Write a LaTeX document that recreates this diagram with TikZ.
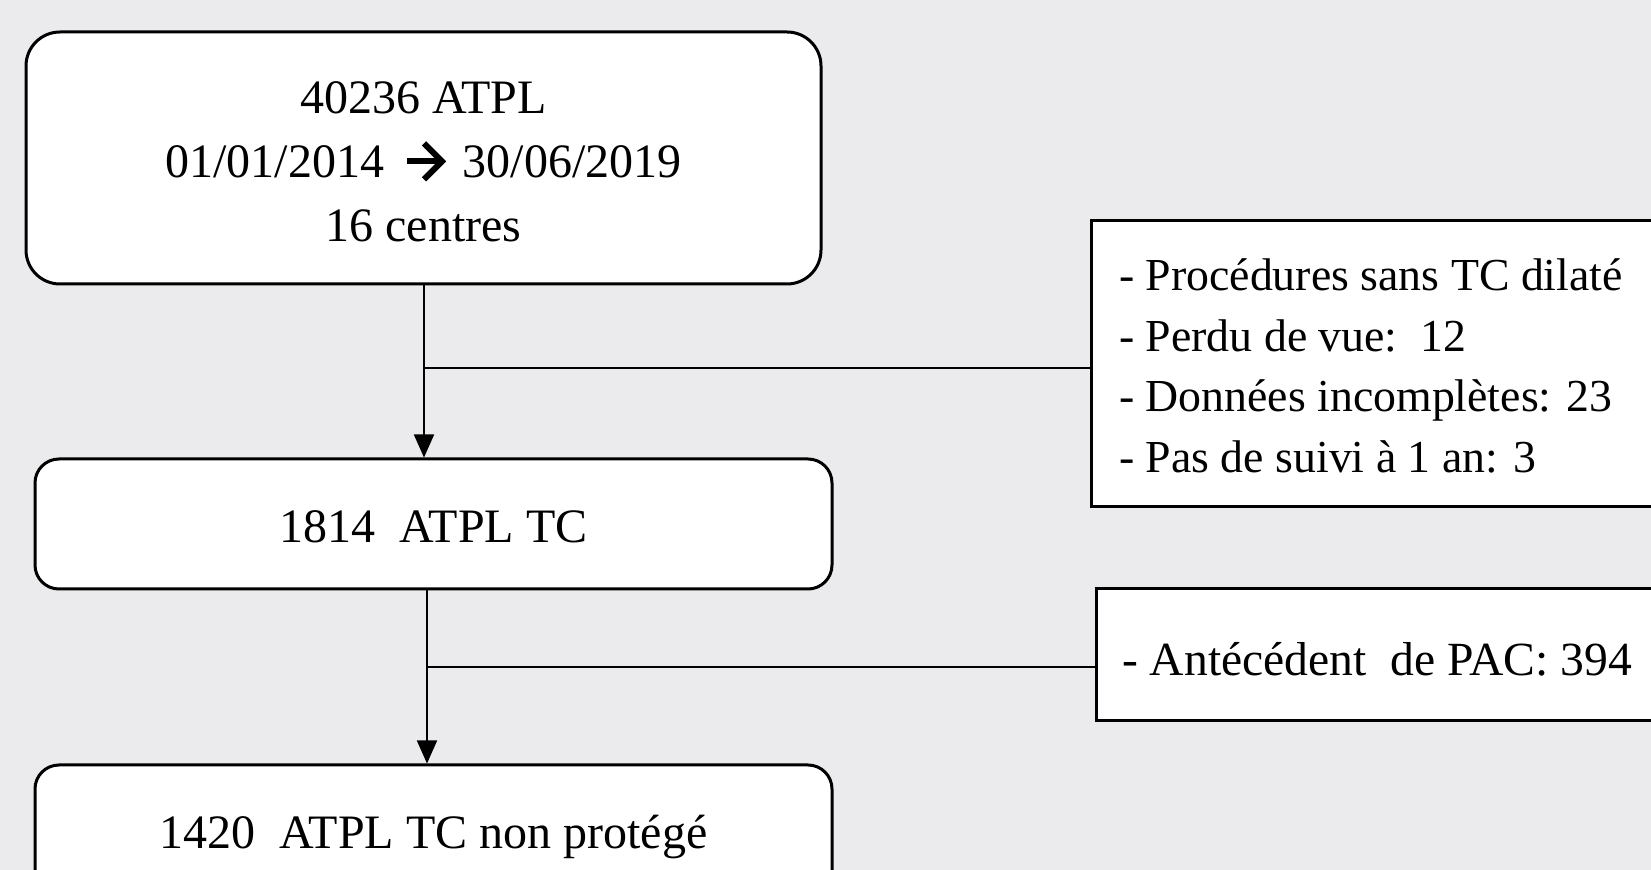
\documentclass[tikz,border=0pt]{standalone}
\usepackage{fontspec}
\setmainfont{Liberation Serif}
\usetikzlibrary{arrows.meta}
\definecolor{bg}{RGB}{235,235,237}
% heavy chevron arrow used inside the date range
\newcommand{\rangearrow}{%
  \tikz[baseline={(0pt,-8pt)}, x=1pt, y=1pt, line width=3pt, miter limit=10]{%
    \useasboundingbox (0,-9.5) rectangle (19.5,9.5);
    \draw (0,0) -- (17,0);
    \draw (8.5,9) -- (17.5,0) -- (8.5,-9);}}
\begin{document}
\begin{tikzpicture}[x=0.5pt,y=-0.5pt,
  boxbase/.style={draw=black, fill=white, line width=1.5pt, inner sep=0pt},
  flowbox/.style={boxbase, rounded corners=12pt, minimum width=398.5pt},
  boxtext/.style={inner sep=0pt, align=center, font=\fontsize{24}{32}\selectfont},
  sidetext/.style={inner sep=0pt, align=left, anchor=west},
  link/.style={line width=0.9pt},
  arr/.style={link, -{Triangle[length=11.5pt,width=10pt]}}]
  % canvas
  \fill[bg] (0,0) rectangle (1651,870);
  \useasboundingbox (0,0) rectangle (1651,870);
  \begin{scope}
    \clip (0,0) rectangle (1651,870);
    % main flow boxes
    \node[boxbase, rounded corners=17pt, minimum width=397.5pt, minimum height=126pt]
      (b1) at (423.5,158) {};
    \node[flowbox, minimum height=65pt] (b2) at (433.5,524) {};
    \node[flowbox, minimum height=68pt] (b3) at (433.5,833) {};
    \node[boxtext] (t1) at ([yshift=-1.8pt]b1.center)
      {40236 ATPL\\01/01/2014\hspace{11.5pt}\rangearrow\hspace{8.5pt}30/06/2019\\16 centres};
    \node[boxtext] (t2) at ([yshift=-1.6pt]b2.center) {1814\ \ ATPL TC};
    \node[boxtext] (t3) at ([yshift=-2pt]b3.center) {1420\ \ ATPL TC non protégé};
    % exclusion boxes (running past the right edge)
    \node[boxbase, minimum width=304.5pt, minimum height=143pt] (r1) at (1395.5,363.5) {};
    \node[boxbase, minimum width=302pt, minimum height=66pt] (r2) at (1398,655) {};
    \node[sidetext, font=\fontsize{22.9}{30.4}\selectfont] (s1)
      at ([xshift=14.6pt,yshift=-1.2pt]r1.west)
      {- Procédures sans TC dilaté\\- Perdu de vue:\ \ 12\\- Données incomplètes: 23\\- Pas de suivi\ à 1 an: 3};
    \node[sidetext, font=\fontsize{23.8}{30}\selectfont] (s2)
      at ([xshift=13.6pt,yshift=-2.2pt]r2.west) {- Antécédent\ \ de PAC: 394};
    % connectors
    \coordinate (a1) at (424,284);
    \coordinate (j1) at (424,368);
    \coordinate (a2) at (427,590);
    \coordinate (j2) at (427,667);
    \draw[arr] (a1) -- (a1 |- b2.north);
    \draw[link] (j1) -- (j1 -| r1.west);
    \draw[arr] (a2) -- (a2 |- b3.north);
    \draw[link] (j2) -- (j2 -| r2.west);
  \end{scope}
\end{tikzpicture}
\end{document}
